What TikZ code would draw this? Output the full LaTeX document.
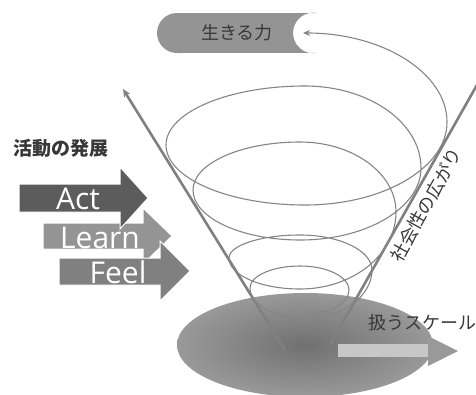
\documentclass[tikz,border=0pt]{standalone}
\usepackage{fontspec}
\newfontfamily\jp{Noto Sans CJK JP}
\newfontfamily\lat{Open Sans}
\usetikzlibrary{arrows.meta,calc}
\definecolor{actc}{gray}{0.36}
\definecolor{learnc}{gray}{0.58}
\definecolor{feelc}{gray}{0.50}
\definecolor{linec}{gray}{0.50}
\definecolor{spiralc}{gray}{0.52}
\definecolor{txtc}{gray}{0.22}
\tikzset{
  spiral/.style={draw=spiralc, line width=1.1pt},
  vline/.style={draw=linec, line width=2.6pt},
  blockarrow/.style={draw=white, line width=1pt},
  arrowtext/.style={font=\lat\fontsize{30}{30}\selectfont, text=white, anchor=base, inner sep=0pt},
  jplabel/.style={font=\jp\fontsize{18}{18}\selectfont, text=txtc, inner sep=0pt},
}
\def\k{0.5523}
\begin{document}
\begin{tikzpicture}[x=1pt,y=-1pt]
\useasboundingbox (0,0) rectangle (476,394);
\clip (0,0) rectangle (476,394);
% bottom ellipse
\shade[inner color=black!56, outer color=black!40] (305,345) ellipse [x radius=128, y radius=52];
% pill
\fill[black!42] (177,13) -- (317,13) arc[start angle=-79.5, end angle=-280.5, radius=20.3] -- (177,53) arc[start angle=90, end angle=270, radius=20] -- cycle;
\node[jplabel] (ikiru) at (237,33) {生きる力};
% V lines
\coordinate (lb) at (285,350);
\coordinate (lt) at (123,89);
\coordinate (rb) at (330,345);
\coordinate (rt) at (482,76);
\draw[vline, -{Stealth[length=8pt,width=7pt]}] (lb) -- (lt);
\draw[vline] (rb) -- (rt);
% spiral key points (h = horizontal tangent, v = vertical tangent)
\coordinate (S)  at (305,314);
\coordinate (R1) at (349,290);
\coordinate (T1) at (300,266);
\coordinate (L1) at (250,288);
\coordinate (B1) at (305,318);
\coordinate (R2) at (372,270);
\coordinate (T2) at (300,235);
\coordinate (L2) at (229,258);
\coordinate (B2) at (300,289);
\coordinate (R3) at (396,212);
\coordinate (T3) at (300,142);
\coordinate (L3) at (193,190);
\coordinate (B3) at (300,240);
\coordinate (R4) at (421,168);
\coordinate (T4) at (305,86);
\coordinate (L4) at (166,145);
\coordinate (B4) at (305,205);
\coordinate (R5) at (447,122);
\coordinate (E)  at (303,33);
\draw[spiral, -{Stealth[length=7pt,width=6pt]}]
 (S)  .. controls ($(S)!\k!(S -| R1)$)   and ($(R1)!\k!(S -| R1)$)  .. (R1)
      .. controls ($(R1)!\k!(T1 -| R1)$) and ($(T1)!\k!(T1 -| R1)$) .. (T1)
      .. controls ($(T1)!\k!(T1 -| L1)$) and ($(L1)!\k!(T1 -| L1)$) .. (L1)
      .. controls ($(L1)!\k!(B1 -| L1)$) and ($(B1)!\k!(B1 -| L1)$) .. (B1)
      .. controls ($(B1)!\k!(B1 -| R2)$) and ($(R2)!\k!(B1 -| R2)$) .. (R2)
      .. controls ($(R2)!\k!(T2 -| R2)$) and ($(T2)!\k!(T2 -| R2)$) .. (T2)
      .. controls ($(T2)!\k!(T2 -| L2)$) and ($(L2)!\k!(T2 -| L2)$) .. (L2)
      .. controls ($(L2)!\k!(B2 -| L2)$) and ($(B2)!\k!(B2 -| L2)$) .. (B2)
      .. controls ($(B2)!\k!(B2 -| R3)$) and ($(R3)!\k!(B2 -| R3)$) .. (R3)
      .. controls ($(R3)!\k!(T3 -| R3)$) and ($(T3)!\k!(T3 -| R3)$) .. (T3)
      .. controls ($(T3)!\k!(T3 -| L3)$) and ($(L3)!\k!(T3 -| L3)$) .. (L3)
      .. controls ($(L3)!\k!(B3 -| L3)$) and ($(B3)!\k!(B3 -| L3)$) .. (B3)
      .. controls ($(B3)!\k!(B3 -| R4)$) and ($(R4)!\k!(B3 -| R4)$) .. (R4)
      .. controls ($(R4)!\k!(T4 -| R4)$) and ($(T4)!\k!(T4 -| R4)$) .. (T4)
      .. controls ($(T4)!\k!(T4 -| L4)$) and ($(L4)!\k!(T4 -| L4)$) .. (L4)
      .. controls ($(L4)!\k!(B4 -| L4)$) and ($(B4)!\k!(B4 -| L4)$) .. (B4)
      .. controls ($(B4)!\k!(B4 -| R5)$) and ($(R5)!\k!(B4 -| R5)$) .. (R5)
      .. controls ($(R5)!\k!(E -| R5)$)  and ($(E)!\k!(E -| R5)$)   .. (E);
% Activity arrows
\node[jplabel, font=\jp\bfseries\fontsize{19}{19}\selectfont] (katsudo) at (61,148) {活動の発展};
\path[blockarrow, fill=learnc] (43,223) -- (143,223) -- (143,208) -- (172,236) -- (143,264) -- (143,249) -- (43,249) -- cycle;
\node[arrowtext] (learn) at (100,248) {Learn};
\path[blockarrow, fill=actc] (19,184) -- (120,184) -- (120,167) -- (148,198) -- (120,229) -- (120,212) -- (19,212) -- cycle;
\node[arrowtext] (act) at (78,209) {Act};
\path[blockarrow, fill=feelc] (59,258) -- (160,258) -- (160,241) -- (190,271) -- (160,301) -- (160,285) -- (59,285) -- cycle;
\node[arrowtext] (feel) at (118,283) {Feel};
% scale arrow
\fill[black!22] (338,344) rectangle (430,357);
\fill[black!40] (428,336) -- (458,351) -- (428,366) -- cycle;
\node[jplabel] (scale) at (422,323) {扱うスケール};
% social label
\node[jplabel, rotate=61] (social) at (426,205) {社会性の広がり};
\end{tikzpicture}
\end{document}
